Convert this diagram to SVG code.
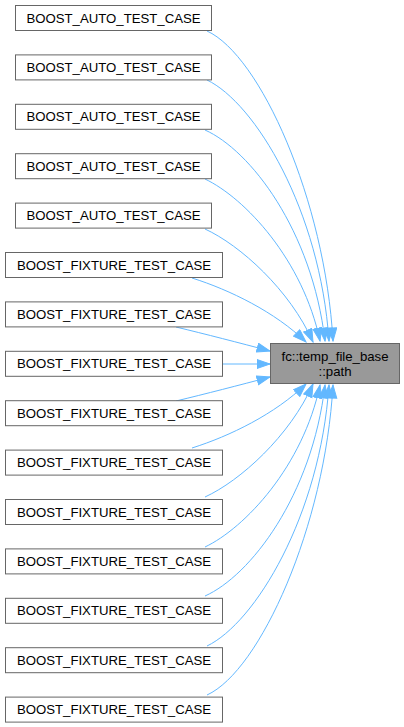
<svg xmlns="http://www.w3.org/2000/svg" width="404" height="727" viewBox="0 0 404 727">
<style>
.n rect{fill:#ffffff;stroke:#666666;stroke-width:1}
.t rect{fill:#999999;stroke:#666666;stroke-width:1}
text{font-family:"Liberation Sans",Arial,sans-serif;font-size:13.2px;fill:#000000;text-anchor:middle}
.e path{fill:none;stroke:#63b8ff;stroke-width:1;marker-end:url(#ah)}
</style>
<defs>
<marker id="ah" markerUnits="userSpaceOnUse" markerWidth="15" markerHeight="11" refX="13.5" refY="5" orient="auto">
<path d="M0.5,0.5 L13.5,5 L0.5,9.5 z" fill="#63b8ff" stroke="#63b8ff" stroke-width="1"/>
</marker>
</defs>
<rect width="404" height="727" fill="#ffffff"/>
<g id="edges" class="e">
<path d="M207,31 C260,55 325,200 333,341"/>
<path d="M207,80 C255,103 320,210 329,341"/>
<path d="M205,130 C250,150 312,230 325,341"/>
<path d="M205,179 C245,198 303,260 320,341"/>
<path d="M205,229 C240,245 290,290 313,342"/>
<path d="M192,278 C230,290 275,312 306,342"/>
<path d="M176,327 C205,334 240,343 270,351"/>
<path d="M222,364 L270,364"/>
<path d="M176,401 C205,394 240,385 270,377"/>
<path d="M192,448 C230,436 275,414 306,384"/>
<path d="M205,497 C240,481 290,436 313,384"/>
<path d="M205,547 C245,528 303,466 320,385"/>
<path d="M205,596 C250,576 312,496 325,385"/>
<path d="M207,646 C255,623 320,516 329,385"/>
<path d="M207,695 C260,671 325,526 333,385"/>
</g>
<g id="target" class="t">
<rect x="270.5" y="343.5" width="129" height="40"/>
<text x="335" y="360.5">fc::temp_file_base</text>
<text x="335" y="375.5">::path</text>
</g>
<g id="n1" class="n"><rect x="15.5" y="5.5" width="196" height="25"/><text x="113.5" y="22.5">BOOST_AUTO_TEST_CASE</text></g>
<g id="n2" class="n"><rect x="15.5" y="54.9" width="196" height="25"/><text x="113.5" y="71.9">BOOST_AUTO_TEST_CASE</text></g>
<g id="n3" class="n"><rect x="15.5" y="104.3" width="196" height="25"/><text x="113.5" y="121.3">BOOST_AUTO_TEST_CASE</text></g>
<g id="n4" class="n"><rect x="15.5" y="153.7" width="196" height="25"/><text x="113.5" y="170.7">BOOST_AUTO_TEST_CASE</text></g>
<g id="n5" class="n"><rect x="15.5" y="203.1" width="196" height="25"/><text x="113.5" y="220.1">BOOST_AUTO_TEST_CASE</text></g>
<g id="n6" class="n"><rect x="5.5" y="252.5" width="217" height="25"/><text x="114" y="269.5">BOOST_FIXTURE_TEST_CASE</text></g>
<g id="n7" class="n"><rect x="5.5" y="301.9" width="217" height="25"/><text x="114" y="318.9">BOOST_FIXTURE_TEST_CASE</text></g>
<g id="n8" class="n"><rect x="5.5" y="351.3" width="217" height="25"/><text x="114" y="368.3">BOOST_FIXTURE_TEST_CASE</text></g>
<g id="n9" class="n"><rect x="5.5" y="400.7" width="217" height="25"/><text x="114" y="417.7">BOOST_FIXTURE_TEST_CASE</text></g>
<g id="n10" class="n"><rect x="5.5" y="450.1" width="217" height="25"/><text x="114" y="467.1">BOOST_FIXTURE_TEST_CASE</text></g>
<g id="n11" class="n"><rect x="5.5" y="499.5" width="217" height="25"/><text x="114" y="516.5">BOOST_FIXTURE_TEST_CASE</text></g>
<g id="n12" class="n"><rect x="5.5" y="548.9" width="217" height="25"/><text x="114" y="565.9">BOOST_FIXTURE_TEST_CASE</text></g>
<g id="n13" class="n"><rect x="5.5" y="598.3" width="217" height="25"/><text x="114" y="615.3">BOOST_FIXTURE_TEST_CASE</text></g>
<g id="n14" class="n"><rect x="5.5" y="647.7" width="217" height="25"/><text x="114" y="664.7">BOOST_FIXTURE_TEST_CASE</text></g>
<g id="n15" class="n"><rect x="5.5" y="697.1" width="217" height="25"/><text x="114" y="714.1">BOOST_FIXTURE_TEST_CASE</text></g>
</svg>
